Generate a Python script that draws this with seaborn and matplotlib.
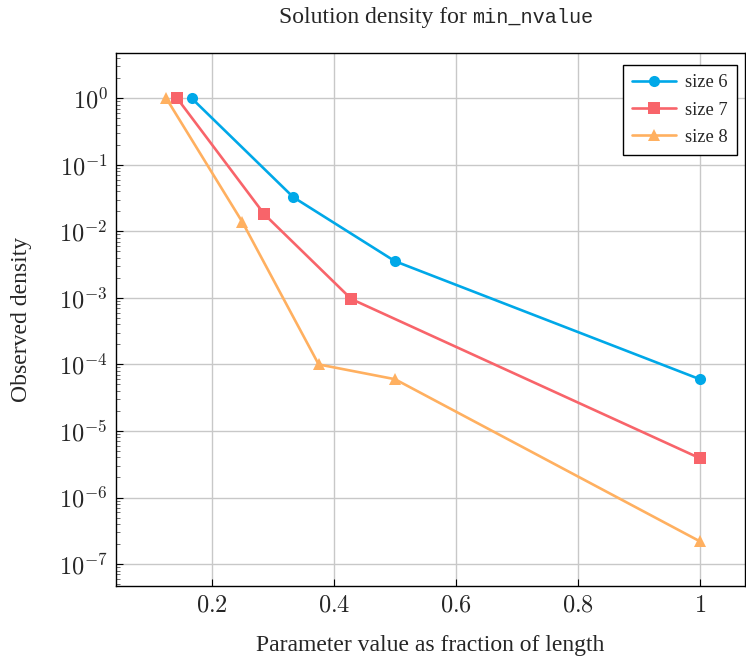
import math

import matplotlib
matplotlib.use("Agg")
import matplotlib.pyplot as plt
import matplotlib.ticker as mticker
import seaborn as sns
import pandas as pd

# data
x_size6 = [1 / 6, 1 / 3, 1 / 2, 1.0]
y_size6 = [1.0, 0.0326, 0.00356, 6.0e-5]
x_size7 = [1 / 7, 2 / 7, 3 / 7, 1.0]
y_size7 = [1.0, 0.0181, 9.6e-4, 3.9e-6]
x_size8 = [1 / 8, 2 / 8, 3 / 8, 4 / 8, 1.0]
y_size8 = [1.0, 0.0137, 1.0e-4, 6.0e-5, 2.2e-7]
labels = ["size 6", "size 7", "size 8"]
x_ticks = [0.2, 0.4, 0.6, 0.8, 1.0]
y_ticks = [1e-7, 1e-6, 1e-5, 1e-4, 1e-3, 1e-2, 1e-1, 1e0]

frames = []
for lab, xs, ys in zip(labels, [x_size6, x_size7, x_size8], [y_size6, y_size7, y_size8]):
    frames.append(pd.DataFrame({"x": xs, "y": ys, "series": lab}))
df = pd.concat(frames, ignore_index=True)

sns.set_theme(style="whitegrid")
plt.rcParams.update({
    "font.family": ["Liberation Serif", "DejaVu Serif"],
    "mathtext.fontset": "cm",
    "axes.edgecolor": "black",
    "axes.linewidth": 1.0,
    "grid.color": "#c8c8c8",
    "grid.linewidth": 1.0,
})

colors = {"size 6": "#00a8e8", "size 7": "#f8646a", "size 8": "#ffb060"}
markers = {"size 6": "o", "size 7": "s", "size 8": "^"}

fig = plt.figure(figsize=(7.46, 6.60), dpi=100)
ax = fig.add_axes([0.1555, 0.1121, 0.843, 0.8076])

sns.lineplot(data=df, x="x", y="y", hue="series", style="series",
             palette=colors, markers=markers, dashes=False,
             linewidth=1.9, markersize=8, markeredgewidth=0, ax=ax)

ax.set_yscale("log")
ax.set_xlim(0.0426, 1.074)
ax.set_ylim(10 ** -7.33, 10 ** 0.68)

ax.set_xticks(x_ticks)
ax.set_yticks(y_ticks)
ax.xaxis.set_major_formatter(mticker.FuncFormatter(lambda v, p: f"${v:g}$"))
ax.yaxis.set_minor_locator(mticker.LogLocator(base=10, subs=range(2, 10), numticks=20))
ax.yaxis.set_minor_formatter(mticker.NullFormatter())
ax.yaxis.set_major_formatter(mticker.FuncFormatter(lambda v, p: f"$10^{{{round(math.log10(v))}}}$"))
ax.tick_params(axis="both", which="major", labelsize=17.5, direction="in", length=5,
               width=0.8, color="black", pad=6)
ax.tick_params(axis="y", which="minor", direction="in", length=3, width=0.6, color="#555555")
ax.tick_params(axis="y", which="both", left=True)
ax.tick_params(axis="x", which="major", bottom=True, pad=7)
ax.grid(True, which="major")
ax.grid(False, which="minor")
for s in ax.spines.values():
    s.set_color("black")

ax.set_xlabel("Parameter value as fraction of length", fontsize=17)
ax.set_ylabel("Observed density", fontsize=17)
ax.xaxis.set_label_coords(0.5, -0.111)
ax.xaxis.label.set_va("center")
ax.yaxis.set_label_coords(-0.15, 0.5)
ax.yaxis.label.set_va("center")

fig.text(0.633, 0.974, "Solution density for ", fontsize=17, ha="right", va="center")
fig.text(0.633, 0.974, "min_nvalue", fontsize=14.5, ha="left", va="center",
         family=["Liberation Mono", "DejaVu Sans Mono"])

leg = ax.legend(loc="upper right", fontsize=13.3, frameon=True, fancybox=False,
                edgecolor="black", framealpha=1, borderpad=0.5, handlelength=2.4,
                handletextpad=0.45, labelspacing=0.55, borderaxespad=0,
                bbox_to_anchor=(0.987, 0.977))
leg.get_frame().set_linewidth(1.0)
for h in leg.legend_handles:
    h.set_markersize(8)
    h.set_markeredgewidth(0)
    h.set_linewidth(1.9)

fig.savefig("out.png", dpi=100)
